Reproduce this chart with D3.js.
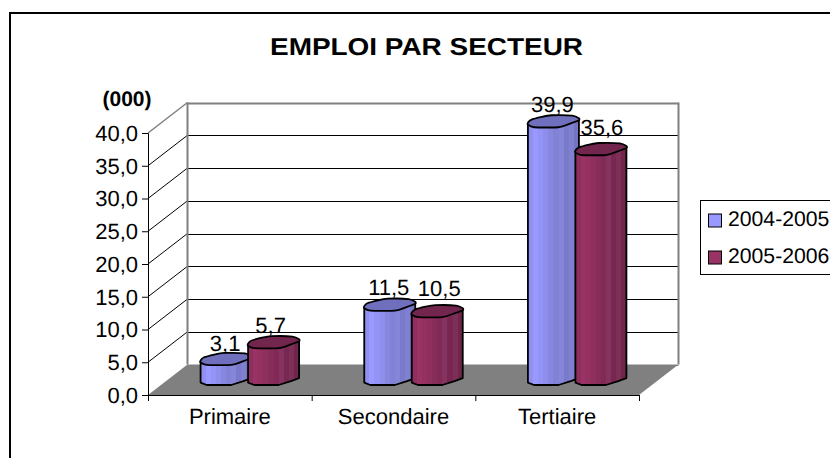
<!DOCTYPE html>
<html>
<head>
<meta charset="utf-8">
<script src="https://cdnjs.cloudflare.com/ajax/libs/d3/7.8.5/d3.min.js"></script>
<style>
    html, body {margin: 0; padding: 0; background: #fff; overflow: hidden;}
    text {font-family: "Liberation Sans", Arial, sans-serif; fill: #000; text-rendering: geometricPrecision;}
</style>
</head>
<body>
<svg id="chart" width="830" height="458"></svg>
<script>
const categories = ["Primaire", "Secondaire", "Tertiaire"];
const seriesNames = ["2004-2005", "2005-2006"];
const values2004 = [3.1, 11.5, 39.9];
const values2005 = [5.7, 10.5, 35.6];
const yTicks = [0, 5, 10, 15, 20, 25, 30, 35, 40];

const seriesColors = ["#9999ff", "#993366"];
const topColors = ["#6f6fbd", "#73264d"];
const bands = [
    ["#9090f0", "#9999ff", "#9494f6", "#8e8eec", "#8787e0", "#8181d6", "#8686d8", "#7a7acb", "#8080d0", "#7474c2"],
    ["#8f2f5f", "#993366", "#94315f", "#8e2f5e", "#872d5a", "#802a55", "#853360", "#782850", "#7e2f58", "#70254b"]
];

let svg = d3.select("#chart"),
    front = {left: 148, right: 639, top: 133, bottom: 395},
    depth = {x: 39.5, y: -30.5},
    labelFont = 22,
    legendFont = 21.2;

let x = d3.scaleBand().domain(categories).range([front.left, front.right]);
let y = d3.scaleLinear().domain([0, 40]).range([front.bottom, front.top]);
// bars stand half way into the floor, so they get their own vertical scale
let barY = d3.scaleLinear().domain([0, 40]).range([385, 126.6]);

let fmt = v => d3.format(".1f")(v).replace(".", ",");

// outer frame, runs off the picture on the right and at the bottom
svg.append("rect")
    .attr("x", 10).attr("y", 13)
    .attr("width", 900).attr("height", 600)
    .attr("fill", "#fff")
    .attr("stroke", "#000")
    .attr("stroke-width", 2);

svg.append("text")
    .attr("x", 270).attr("y", 54.5)
    .attr("textLength", 313)
    .attr("lengthAdjust", "spacingAndGlyphs")
    .style("font-size", "24.5px")
    .style("font-weight", "bold")
    .text("EMPLOI PAR SECTEUR");

svg.append("text")
    .attr("x", 102.5).attr("y", 105.5)
    .style("font-size", "21px")
    .style("font-weight", "bold")
    .text("(000)");

// floor
let floor = d3.line()([
    [front.left, front.bottom],
    [front.left + depth.x, front.bottom + depth.y],
    [front.right + depth.x, front.bottom + depth.y],
    [front.right, front.bottom]
]) + "Z";
svg.append("path").attr("d", floor).attr("fill", "#808080");

// back wall grid and left wall diagonals
let grid = svg.append("g");
grid.selectAll("line.back")
    .data(yTicks)
    .enter()
    .append("line")
    .attr("class", "back")
    .attr("x1", front.left + depth.x)
    .attr("x2", front.right + depth.x)
    .attr("y1", d => Math.round(y(d) + depth.y) + 0.5)
    .attr("y2", d => Math.round(y(d) + depth.y) + 0.5)
    .attr("stroke", d => d === 0 || d === 40 ? "#808080" : "#000")
    .attr("stroke-width", d => d === 40 ? 2 : 1);
grid.selectAll("line.diag")
    .data(yTicks.slice(1))
    .enter()
    .append("line")
    .attr("class", "diag")
    .attr("x1", front.left)
    .attr("x2", front.left + depth.x)
    .attr("y1", d => y(d))
    .attr("y2", d => y(d) + depth.y)
    .attr("stroke", d => d === 40 ? "#808080" : "#000")
    .attr("stroke-width", d => d === 40 ? 1.5 : 1);
[front.left + depth.x, front.right + depth.x].forEach(wx => {
    grid.append("line")
        .attr("x1", wx).attr("x2", wx)
        .attr("y1", front.top + depth.y)
        .attr("y2", front.bottom + depth.y)
        .attr("stroke", "#808080")
        .attr("stroke-width", 2);
});

// axes
let yAxis = d3.axisLeft(y).tickValues(yTicks).tickSize(6).tickPadding(4).tickFormat(fmt);
let yG = svg.append("g")
    .attr("transform", "translate(" + front.left + ",0)")
    .call(yAxis);

let xEdges = d3.scaleLinear().domain([0, categories.length]).range([front.left, front.right]);
svg.append("g")
    .attr("transform", "translate(0," + front.bottom + ")")
    .call(d3.axisBottom(xEdges).tickValues(d3.range(categories.length + 1)).tickSize(6).tickFormat(""));

let xG = svg.append("g")
    .attr("transform", "translate(0," + front.bottom + ")")
    .call(d3.axisBottom(x).tickSize(0).tickPadding(13));
xG.select(".domain").remove();

svg.selectAll("g.tick text").style("font-size", labelFont + "px");
svg.selectAll(".domain, g.tick line").attr("stroke", "#000");
yG.selectAll("g.tick text").attr("dy", "0.34em");

// gradient bands across the column
let defs = svg.append("defs");
bands.forEach((colors, s) => {
    let g = defs.append("linearGradient").attr("id", "bar-" + s);
    colors.forEach((c, i) => {
        g.append("stop").attr("offset", i / colors.length).attr("stop-color", c);
        g.append("stop").attr("offset", (i + 1) / colors.length).attr("stop-color", c);
    });
});

// bars
let barWidth = 51, barStep = 47.5, capHeight = 12;
let barData = [];
categories.forEach((c, i) => {
    barData.push({cat: c, s: 0, value: values2004[i]});
    barData.push({cat: c, s: 1, value: values2005[i]});
});

// cross section of the column, u across and v from back to front
let capShape = [[0, .62], [.06, .38], [.27, .13], [.46, 0], [.87, .03], [1, .25], [1, .42], [.84, .68], [.6, 1], [.12, 1], [0, .8]];
let frontEdge = [[.12, 1], [.6, 1], [.84, .68], [1, .42]];

let barLeft = d => x(d.cat) + x.bandwidth() / 2 + 20 - barStep / 2 - barWidth / 2 + d.s * barStep;
let capLine = d3.line().curve(d3.curveCardinalClosed.tension(0.4));

let bars = svg.selectAll("g.bar")
    .data(barData)
    .enter()
    .append("g")
    .attr("class", "bar");

bars.append("path")
    .attr("d", d => {
        let l = barLeft(d),
            top = barY(d.value) - capHeight,
            bottom = barY(0) - capHeight;
        let pts = [[l, top + capHeight * .7], [l, bottom + capHeight * .8]]
            .concat(frontEdge.map(p => [l + p[0] * barWidth, bottom + p[1] * capHeight]))
            .concat([[l + barWidth, top + capHeight * .4]]);
        return d3.line()(pts) + "Z";
    })
    .attr("fill", d => "url(#bar-" + d.s + ")")
    .attr("stroke", "#000")
    .attr("stroke-width", 1.8)
    .attr("stroke-linejoin", "round");

bars.append("path")
    .attr("d", d => {
        let l = barLeft(d), top = barY(d.value) - capHeight;
        return capLine(capShape.map(p => [l + p[0] * barWidth, top + p[1] * capHeight]));
    })
    .attr("fill", d => topColors[d.s])
    .attr("stroke", "#000")
    .attr("stroke-width", 1.8);

// labels were moved by hand in the original where they would touch
let labelNudge = {
    "Primaire-0": {dx: 0, dy: 1.5},
    "Primaire-1": {dx: -2, dy: 0},
    "Secondaire-1": {dx: 3, dy: -6},
    "Tertiaire-1": {dx: 2, dy: -5}
};
let nudge = d => labelNudge[d.cat + "-" + d.s] || {dx: 0, dy: 0};

bars.append("text")
    .attr("x", d => barLeft(d) + barWidth / 2 - 1 + nudge(d).dx)
    .attr("y", d => barY(d.value) - 15.5 + nudge(d).dy)
    .attr("text-anchor", "middle")
    .style("font-size", labelFont + "px")
    .text(d => fmt(d.value));

// legend
let legend = svg.append("g");
legend.append("rect")
    .attr("x", 700.5).attr("y", 200.5)
    .attr("width", 200).attr("height", 74)
    .attr("fill", "#fff")
    .attr("stroke", "#000");

let legendRow = d3.scalePoint().domain(seriesNames).range([226, 263]);
seriesNames.forEach((name, s) => {
    legend.append("rect")
        .attr("x", 708.5).attr("y", legendRow(name) - 12)
        .attr("width", 13).attr("height", 13)
        .attr("fill", seriesColors[s])
        .attr("stroke", "#000");
    legend.append("text")
        .attr("x", 728).attr("y", legendRow(name))
        .style("font-size", legendFont + "px")
        .text(name);
});
</script>
</body>
</html>
